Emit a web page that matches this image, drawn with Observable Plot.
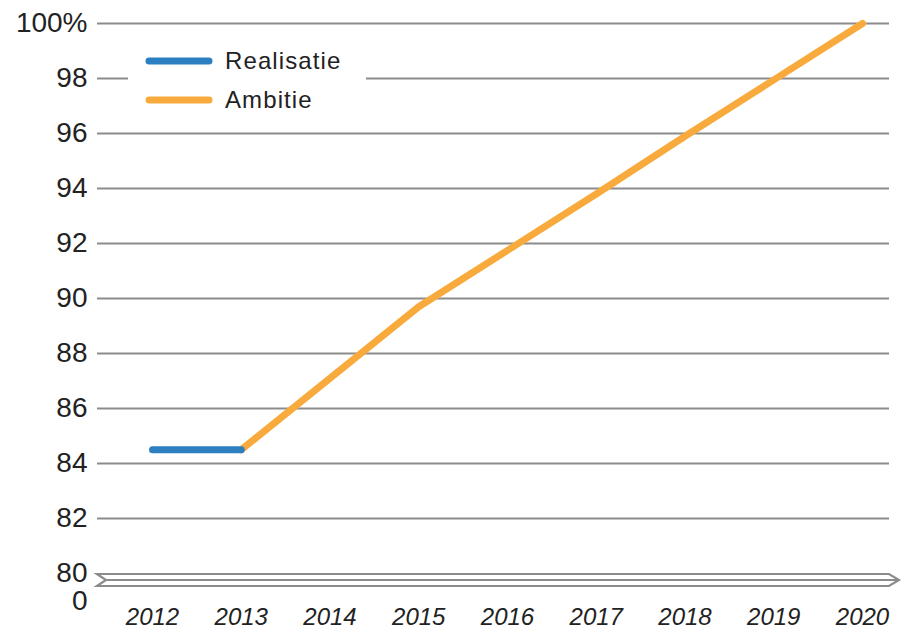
<!DOCTYPE html>
<html>
<head>
<meta charset="utf-8">
<script src="https://cdn.jsdelivr.net/npm/d3@7"></script>
<script src="https://cdn.jsdelivr.net/npm/@observablehq/plot@0.6"></script>
<style>
  html, body { margin: 0; padding: 0; background: #fff; }
</style>
</head>
<body>
<div id="chart"></div>
<script>
// ---- data ----
const years = [2012, 2013, 2014, 2015, 2016, 2017, 2018, 2019, 2020];
const realisatieYears = [2012, 2013];
const realisatieValues = [84.5, 84.5];
const ambitieYears = [2013, 2014, 2015, 2016, 2017, 2018, 2019, 2020];
const ambitieValues = [84.5, 87.1, 89.7, 91.75, 93.8, 95.9, 97.95, 100];
const gridValues = [82, 84, 86, 88, 90, 92, 94, 96, 98, 100];
const yTickValues = [79, 80, 82, 84, 86, 88, 90, 92, 94, 96, 98, 100];
const yTickLabels = ["0", "80", "82", "84", "86", "88", "90", "92", "94", "96", "98", "100%"];
const seriesNames = ["Realisatie", "Ambitie"];
const seriesColors = ["#2c7fc0", "#f9aa3c"];

const realisatie = realisatieYears.map((y, i) => ({year: y, value: realisatieValues[i]}));
const ambitie = ambitieYears.map((y, i) => ({year: y, value: ambitieValues[i]}));
const tickLabel = new Map(yTickValues.map((v, i) => [v, yTickLabels[i]]));

const W = 906, H = 630;
const svgNS = "http://www.w3.org/2000/svg";

// axis break ribbon (drawn in pixel space from the y scale at 80)
function breakMark(index, scales, values, dim) {
  const g = document.createElementNS(svgNS, "g");
  const y0 = scales.y(80) + 1;
  const h = 12;
  const xl = dim.marginLeft, xr = dim.width - dim.marginRight;
  const p = document.createElementNS(svgNS, "path");
  p.setAttribute("d",
    `M${xl},${y0} L${xr},${y0} L${xr + 10},${y0 + h / 2} L${xr},${y0 + h} L${xl},${y0 + h} L${xl + 9},${y0 + h / 2} Z` +
    ` M${xl + 9},${y0 + h / 2} L${xr + 9},${y0 + h / 2}`);
  p.setAttribute("fill", "none");
  p.setAttribute("stroke", "#8c8c8c");
  p.setAttribute("stroke-width", "2.2");
  p.setAttribute("stroke-linejoin", "miter");
  g.appendChild(p);
  return g;
}

// legend (white box over grid, two swatches)
function legendMark(index, scales, values, dim) {
  const g = document.createElementNS(svgNS, "g");
  const bg = document.createElementNS(svgNS, "rect");
  bg.setAttribute("x", 128); bg.setAttribute("y", 42);
  bg.setAttribute("width", 238); bg.setAttribute("height", 76);
  bg.setAttribute("fill", "#fff");
  g.appendChild(bg);
  seriesNames.forEach((name, i) => {
    const cy = 61 + i * 39;
    const l = document.createElementNS(svgNS, "line");
    l.setAttribute("x1", 149); l.setAttribute("x2", 209);
    l.setAttribute("y1", cy); l.setAttribute("y2", cy);
    l.setAttribute("stroke", seriesColors[i]);
    l.setAttribute("stroke-width", 7);
    l.setAttribute("stroke-linecap", "round");
    g.appendChild(l);
    const t = document.createElementNS(svgNS, "text");
    t.setAttribute("x", 225); t.setAttribute("y", cy);
    t.setAttribute("dy", "0.35em");
    t.setAttribute("text-anchor", "start");
    t.setAttribute("font-size", 24);
    t.setAttribute("letter-spacing", "1.1");
    t.setAttribute("fill", "#222");
    t.textContent = name;
    g.appendChild(t);
  });
  return g;
}

const chart = Plot.plot({
  width: W,
  height: H,
  marginLeft: 97,
  marginRight: 17,
  marginTop: 20,
  marginBottom: 30,
  style: {fontFamily: "Liberation Sans, Arial, sans-serif", color: "#222", background: "#fff"},
  x: {domain: [2012, 2020], range: [152, 862]},
  y: {domain: [80, 100], range: [573, 23]},
  marks: [
    Plot.ruleY(gridValues, {stroke: "#8c8c8c", strokeWidth: 2.2, strokeOpacity: 1}),
    breakMark,
    Plot.axisY(yTickValues, {
      anchor: "left", tickSize: 0, tickPadding: 10,
      tickFormat: d => tickLabel.get(d), fontSize: 28, fill: "#222", label: null
    }),
    Plot.axisX(years, {
      anchor: "bottom", tickSize: 0, tickPadding: 7,
      tickFormat: d => String(d), fontSize: 24, fontStyle: "italic", fill: "#222", label: null
    }),
    legendMark,
    Plot.line(ambitie, {x: "year", y: "value", stroke: seriesColors[1], strokeWidth: 7, strokeLinecap: "round", strokeLinejoin: "round"}),
    Plot.line(realisatie, {x: "year", y: "value", stroke: seriesColors[0], strokeWidth: 7, strokeLinecap: "round", strokeLinejoin: "round"})
  ]
});
document.getElementById("chart").appendChild(chart);
</script>
</body>
</html>
